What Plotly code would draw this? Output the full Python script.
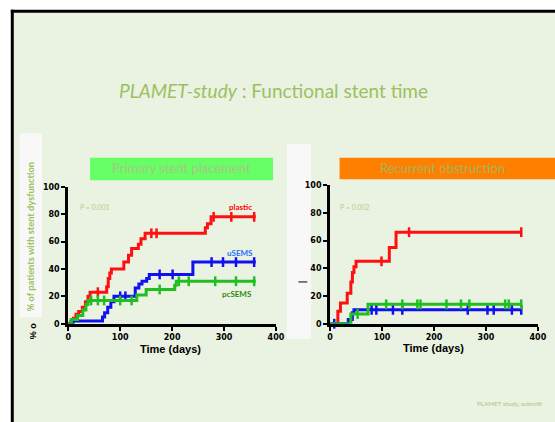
import plotly.graph_objects as go
import numpy as np

W, H = 555, 422

# ---------------- data (days, cumulative % with stent dysfunction) ----------------
# Primary stent placement
prim_plastic_days = [0, 5, 10, 15, 20, 27, 33, 38, 42, 74, 77, 80, 83, 107, 116, 122, 135, 140, 148, 264, 268, 275, 361]
prim_plastic_pct  = [0, 2, 4, 7, 9, 12, 16, 20, 23, 27, 33, 37, 40, 45, 50, 55, 58, 62, 66, 70, 73, 78, 78]
prim_plastic_cens = [57, 160, 170, 280, 314, 358]

prim_usems_days = [0, 9, 66, 70, 76, 82, 88, 129, 136, 142, 151, 156, 240, 361]
prim_usems_pct  = [0, 2, 5, 8, 12, 16, 20, 26, 29, 31, 33, 36, 45, 45]
prim_usems_cens = [100, 110, 176, 201, 276, 298, 323, 358]

prim_pcsems_days = [0, 6, 18, 28, 34, 38, 132, 150, 205, 208, 361]
prim_pcsems_pct  = [0, 3, 6, 10, 14, 17, 21, 25, 28, 31, 31]
prim_pcsems_cens = [44, 57, 69, 100, 122, 176, 213, 232, 283, 323, 358]

# Recurrent obstruction
rec_plastic_days = [0, 15, 20, 33, 40, 43, 46, 50, 114, 127, 368]
rec_plastic_pct  = [0, 9, 15, 22, 30, 37, 41, 45, 55, 66, 66]
rec_plastic_cens = [99, 152, 368]

rec_usems_days = [0, 35, 43, 46, 368]
rec_usems_pct  = [0, 3, 8, 10, 10]
rec_usems_cens = [8, 80, 89, 121, 139, 265, 303, 315, 350, 368]

rec_pcsems_days = [0, 40, 73, 368]
rec_pcsems_pct  = [0, 7, 14, 14]
rec_pcsems_cens = [53, 108, 139, 168, 174, 224, 252, 268, 337, 344, 368]

x_ticks = [0, 100, 200, 300, 400]
y_ticks = [0, 20, 40, 60, 80, 100]

RED, BLUE, GREEN = "#FF1010", "#1010F0", "#20BE20"
TXT_GREEN = "#9BC15F"
BG = "#EAF2E2"


def px(x):
    return x / W


def py(y):
    return 1 - y / H


def step_at(days, pct, d):
    idx = np.searchsorted(np.array(days), d, side="right") - 1
    return pct[max(idx, 0)]


fig = go.Figure()

curves = [
    ("x", "y", prim_plastic_days, prim_plastic_pct, prim_plastic_cens, RED),
    ("x", "y", prim_usems_days, prim_usems_pct, prim_usems_cens, BLUE),
    ("x", "y", prim_pcsems_days, prim_pcsems_pct, prim_pcsems_cens, GREEN),
    ("x2", "y2", rec_plastic_days, rec_plastic_pct, rec_plastic_cens, RED),
    ("x2", "y2", rec_usems_days, rec_usems_pct, rec_usems_cens, BLUE),
    ("x2", "y2", rec_pcsems_days, rec_pcsems_pct, rec_pcsems_cens, GREEN),
]
for xa, ya, d, p, c, col in curves:
    fig.add_trace(go.Scatter(x=d, y=p, xaxis=xa, yaxis=ya, mode="lines",
                             line=dict(color=col, width=3, shape="hv"),
                             showlegend=False, hoverinfo="skip", cliponaxis=False))
    fig.add_trace(go.Scatter(x=c, y=[step_at(d, p, v) for v in c], xaxis=xa, yaxis=ya,
                             mode="markers",
                             marker=dict(symbol="line-ns", size=7, line=dict(color=col, width=2.5)),
                             showlegend=False, hoverinfo="skip", cliponaxis=False))

tick_font = dict(family="DejaVu Sans", size=8, color="black", weight="bold")
axis_common = dict(showgrid=False, zeroline=False, showline=True, linecolor="black",
                   linewidth=3, ticks="outside", ticklen=4, tickwidth=2, tickcolor="black",
                   tickfont=tick_font, fixedrange=True)

fig.update_layout(
    width=W, height=H,
    margin=dict(l=0, r=0, t=0, b=0),
    paper_bgcolor="white",
    plot_bgcolor="rgba(0,0,0,0)",
    xaxis=dict(domain=[px(66.7), px(279)], range=[0, 400], tickvals=x_ticks, anchor="y", **axis_common),
    yaxis=dict(domain=[py(326.7), py(186.7)], range=[0, 100], tickvals=y_ticks, anchor="x", **axis_common),
    xaxis2=dict(domain=[px(334.3), px(546.7)], range=[0, 400], tickvals=x_ticks, anchor="y2", **axis_common),
    yaxis2=dict(domain=[py(326.7), py(185)], range=[0, 100], tickvals=y_ticks, anchor="x2", **axis_common),
)

shapes = [
    # slide background and border
    dict(type="rect", xref="paper", yref="paper", x0=px(11), x1=px(570), y0=py(440), y1=py(9),
         fillcolor=BG, line=dict(width=0), layer="below"),
    dict(type="line", xref="paper", yref="paper", x0=px(8), x1=px(570), y0=py(7.5), y1=py(7.5),
         line=dict(color="black", width=3), layer="below"),
    dict(type="line", xref="paper", yref="paper", x0=px(9.5), x1=px(9.5), y0=py(6), y1=py(440),
         line=dict(color="black", width=3), layer="below"),
    # white boxes
    dict(type="rect", xref="paper", yref="paper", x0=px(17), x1=px(40), y0=py(320), y1=py(132),
         fillcolor="#F8F8F8", line=dict(width=0), layer="below"),
    dict(type="rect", xref="paper", yref="paper", x0=px(290), x1=px(315), y0=py(342), y1=py(143),
         fillcolor="#F8F8F8", line=dict(width=0), layer="below"),
    dict(type="line", xref="paper", yref="paper", x0=px(302), x1=px(311), y0=py(284), y1=py(284),
         line=dict(color="black", width=1), layer="below"),
    # coloured header boxes
    dict(type="rect", xref="paper", yref="paper", x0=px(89), x1=px(276), y0=py(180), y1=py(157),
         fillcolor="#66FF66", line=dict(width=0), layer="below"),
    dict(type="rect", xref="paper", yref="paper", x0=px(344), x1=px(570), y0=py(179), y1=py(157),
         fillcolor="#FF7F00", line=dict(width=0), layer="below"),
]
fig.update_layout(shapes=shapes)


def ann(text, x, y, size, color, family="Liberation Sans", bold=False, angle=0, xanchor="center"):
    fig.add_annotation(text=text, x=px(x), y=py(y), xref="paper", yref="paper", showarrow=False,
                       xanchor=xanchor, yanchor="middle", textangle=angle,
                       font=dict(family=family, size=size, color=color, weight="bold" if bold else "normal"))


ann("<i>PLAMET-study</i> : Functional stent time", 276, 88, 19, TXT_GREEN, family="Lato")
ann("Primary stent placement", 182, 168, 13, "#A9C684", family="Lato")
ann("Recurrent obstruction", 449, 168, 13, "#A9B45A", family="Lato")
ann("% of patients with stent dysfunction", 29, 238, 9.3, TXT_GREEN, family="Lato", bold=True, angle=-90)
ann("% o", 31, 334, 9, "black", bold=True, angle=-90)
ann("P = 0.001", 94, 207, 7, "#B3D08A", family="Lato")
ann("P = 0.002", 360, 207, 7, "#B3D08A", family="Lato")
ann("plastic", 243, 207, 8, "#FF0000", family="Lato", bold=True)
ann("uSEMS", 242, 254, 8, "#1E6EFF", family="Lato", bold=True)
ann("pcSEMS", 239, 296, 8, "#2E8B10", family="Lato", bold=True)
ann("Time (days)", 171, 353, 11, "black", bold=True)
ann("Time (days)", 440, 352, 11, "black", bold=True)
ann("PLAMET study, submitt", 553, 408, 6.3, "#A9C684", family="Lato", xanchor="right")

fig.write_html("out.html", config={"displayModeBar": False},
               post_script="document.body.style.margin='0px';document.body.style.overflow='hidden';")
